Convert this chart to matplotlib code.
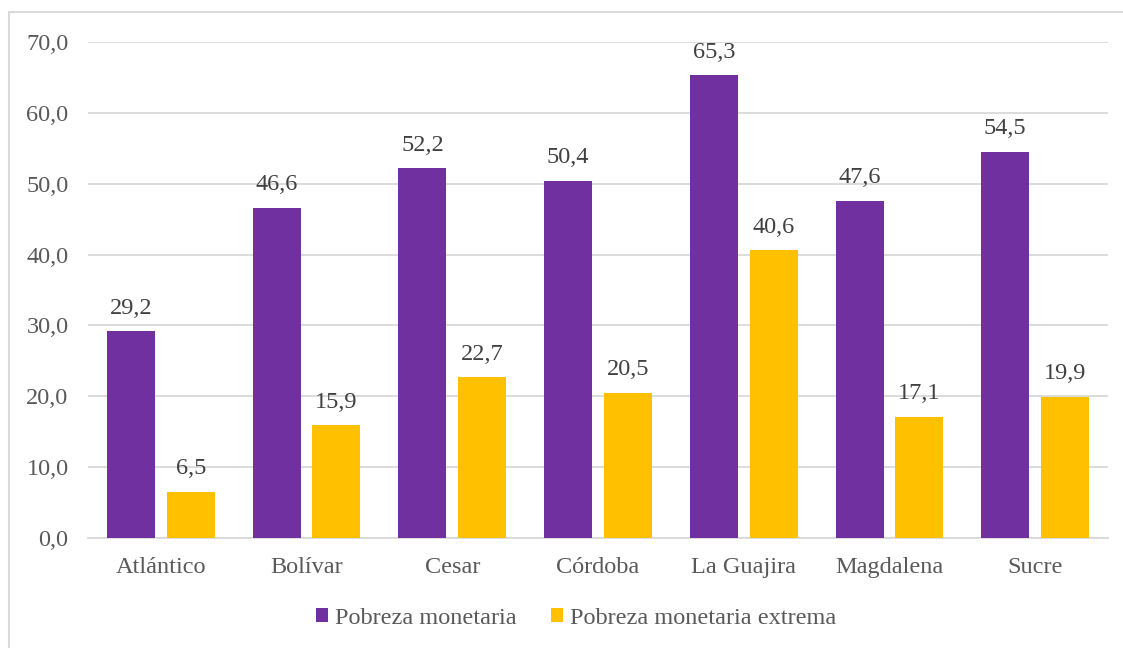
import matplotlib
matplotlib.use("Agg")
from matplotlib import pyplot as plt
from matplotlib.patches import Rectangle
import numpy as np

departamentos = ["Atlántico", "Bolívar", "Cesar", "Córdoba", "La Guajira", "Magdalena", "Sucre"]
pobreza = [29.2, 46.6, 52.2, 50.4, 65.3, 47.6, 54.5]
pobreza_extrema = [6.5, 15.9, 22.7, 20.5, 40.6, 17.1, 19.9]
series_names = ["Pobreza monetaria", "Pobreza monetaria extrema"]
yticks = [0, 10, 20, 30, 40, 50, 60, 70]

purple = "#7030A0"
gold = "#FFC000"
gray = "#595959"
fs = 17.5

plt.rcParams["font.family"] = ["Liberation Serif", "DejaVu Serif"]

fig = plt.figure(figsize=(11.23, 6.48), dpi=100)
ax = fig.add_axes([88 / 1123, 1 - 538 / 648, 1020 / 1123, 496 / 648])

x = np.arange(len(departamentos))
w = 0.33
off = 0.205
b1 = ax.bar(x - off, pobreza, w, color=purple, label=series_names[0], zorder=3)
b2 = ax.bar(x + off, pobreza_extrema, w, color=gold, label=series_names[1], zorder=3)

for bars, vals in ((b1, pobreza), (b2, pobreza_extrema)):
    for r, v in zip(bars, vals):
        ax.annotate(f"{v:.1f}".replace(".", ","), (r.get_x() + r.get_width() / 2, v),
                    xytext=(0, 9), textcoords="offset points", ha="center", va="bottom",
                    fontsize=fs, color="#404040")

ax.set_xlim(-0.5, len(departamentos) - 0.5)
ax.set_ylim(0, 70)
ax.set_yticks(yticks)
ax.set_yticklabels([f"{t:.1f}".replace(".", ",") for t in yticks])
ax.set_xticks(x)
ax.set_xticklabels(departamentos)
ax.tick_params(axis="both", length=0, labelsize=fs, colors=gray)
ax.tick_params(axis="y", pad=14)
ax.tick_params(axis="x", pad=14)
ax.grid(axis="y", color="#D9D9D9", linewidth=1.3, zorder=0)
for s in ["top", "right", "left"]:
    ax.spines[s].set_visible(False)
ax.spines["bottom"].set_color("#D9D9D9")
ax.spines["bottom"].set_linewidth(1.3)

leg = fig.legend(loc="center", bbox_to_anchor=(576 / 1123, 1 - 618 / 648), ncol=2,
                 frameon=False, fontsize=fs, handlelength=0.5, handleheight=0.5,
                 handletextpad=0.3, columnspacing=1.4)
for t in leg.get_texts():
    t.set_color(gray)

fig.patches.append(Rectangle((8.5 / 1123, -0.1), 1.2, 1 - 12.5 / 648 + 0.1,
                             transform=fig.transFigure, fill=False,
                             edgecolor="#D9D9D9", linewidth=1.5))

fig.savefig("out.png", dpi=100)
